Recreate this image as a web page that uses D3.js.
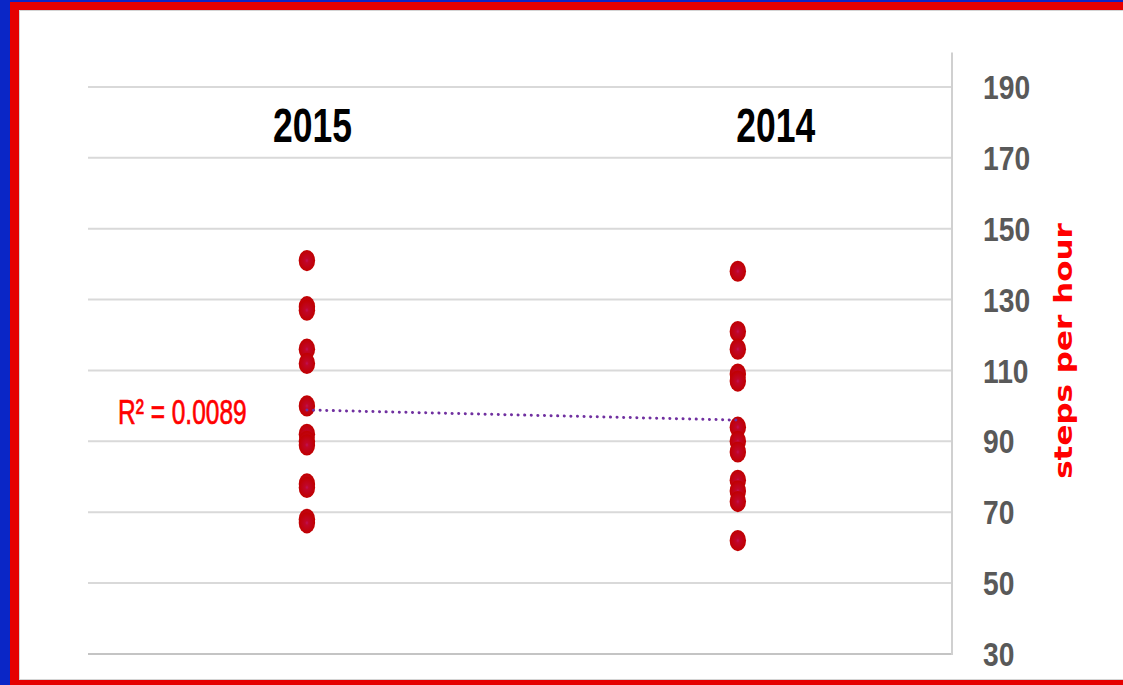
<!DOCTYPE html>
<html>
<head>
<meta charset="utf-8">
<script src="https://cdn.jsdelivr.net/npm/d3@7"></script>
<style>
  html, body { margin: 0; padding: 0; background: #0a26c6; }
  svg { display: block; }
</style>
</head>
<body>
<div id="chart"></div>
<script>
const width = 1123;
const height = 685;

// data
const years = ["2015", "2014"];
const xValues = [1, 2];
const steps2015 = [141, 128, 127, 116, 112, 100, 92, 90, 89, 78, 77, 68, 67];
const steps2014 = [138, 121, 116, 109, 107, 94, 90, 87, 79, 76, 73, 62];
const yTicks = [30, 50, 70, 90, 110, 130, 150, 170, 190];
const r2Label = "R\u00B2 = 0.0089";
const axisTitle = "steps per hour";

// no narrow font installed, so squeeze Liberation Sans sideways
const sans = "'Liberation Sans',Arial,sans-serif";

const plot = { left: 88, right: 952, top: 51.5, bottom: 654 };

const x = d3.scaleLinear().domain([0.492, 2.497]).range([plot.left, plot.right]);
const y = d3.scaleLinear().domain([30, 200]).range([plot.bottom, plot.top]);

const svg = d3
  .select("#chart")
  .append("svg")
  .attr("width", width)
  .attr("height", height);

// frame
svg.append("rect").attr("width", width).attr("height", height).attr("fill", "#0a26c6");
svg.append("rect").attr("x", 10).attr("y", 2).attr("width", width).attr("height", height).attr("fill", "#e60000");
svg.append("rect")
  .attr("x", 19.5).attr("y", 10.5).attr("width", width).attr("height", 669)
  .attr("fill", "#fff").attr("stroke", "#d4d4d4").attr("stroke-width", 1);

const defs = svg.append("defs");
const grad = defs.append("radialGradient").attr("id", "dot");
grad.append("stop").attr("offset", "0%").attr("stop-color", "#bf1258");
grad.append("stop").attr("offset", "22%").attr("stop-color", "#c00628");
grad.append("stop").attr("offset", "100%").attr("stop-color", "#c00000");

// gridlines
svg.append("g")
  .selectAll("line")
  .data(yTicks)
  .join("line")
  .attr("x1", plot.left)
  .attr("x2", plot.right)
  .attr("y1", (d) => y(d))
  .attr("y2", (d) => y(d))
  .attr("stroke", (d) => (d == 30 ? "#c4c4c4" : "#d9d9d9"))
  .attr("stroke-width", 2);

// right axis
const axis = svg.append("g").attr("transform", `translate(${plot.right},0)`)
  .call(d3.axisRight(y).tickValues(yTicks).tickSize(0));
axis.select(".domain").attr("stroke", "#d0d0d0").attr("stroke-width", 2)
  .attr("d", `M0,${plot.top + 1}V${plot.bottom + 1}`);
axis.selectAll("text")
  .attr("x", 0)
  .attr("transform", "translate(31,0) scale(0.83,1)")
  .attr("fill", "#595959")
  .style("font-family", sans)
  .style("font-size", "34px")
  .style("font-weight", "bold")
  .attr("dy", "0.34em");

svg.append("text")
  .attr("transform", `translate(1072,351) rotate(-90) scale(1.24,1)`)
  .attr("text-anchor", "middle")
  .attr("fill", "#ff0000")
  .style("font-family", "'DejaVu Sans',Verdana,sans-serif")
  .style("font-weight", "bold")
  .style("font-size", "25px")
  .text(axisTitle);

// year labels
const labelShift = [5.5, 38];
svg.append("g")
  .selectAll("text")
  .data(years)
  .join("text")
  .attr("transform", (d, i) => `translate(${x(xValues[i]) + labelShift[i]},142) scale(0.74,1)`)
  .attr("text-anchor", "middle")
  .style("font-family", sans)
  .style("font-weight", "bold")
  .style("font-size", "48px")
  .attr("fill", "#000")
  .text((d) => d);

// points
const points = [
  ...steps2015.map((v) => ({ x: xValues[0], y: v })),
  ...steps2014.map((v) => ({ x: xValues[1], y: v })),
];

svg.append("g")
  .selectAll("ellipse")
  .data(points)
  .join("ellipse")
  .attr("cx", (d) => x(d.x))
  .attr("cy", (d) => y(d.y))
  .attr("rx", 8.2)
  .attr("ry", 10.6)
  .attr("fill", "url(#dot)");

// linear trendline
const mx = d3.mean(points, (d) => d.x);
const my = d3.mean(points, (d) => d.y);
const slope =
  d3.sum(points, (d) => (d.x - mx) * (d.y - my)) /
  d3.sum(points, (d) => (d.x - mx) ** 2);
const fit = (v) => my + slope * (v - mx);

svg.append("line")
  .attr("x1", x(xValues[0]))
  .attr("x2", x(xValues[1]))
  .attr("y1", y(fit(xValues[0])))
  .attr("y2", y(fit(xValues[1])))
  .attr("stroke", "#7030a0")
  .attr("stroke-width", 3)
  .attr("stroke-linecap", "round")
  .attr("stroke-dasharray", "0.1,6.5");

svg.append("text")
  .attr("transform", "translate(118,424) scale(0.7,1)")
  .attr("fill", "#ff0000")
  .attr("stroke", "#ff0000")
  .attr("stroke-width", 0.7)
  .style("font-family", sans)
  .style("font-size", "35px")
  .text(r2Label);
</script>
</body>
</html>
